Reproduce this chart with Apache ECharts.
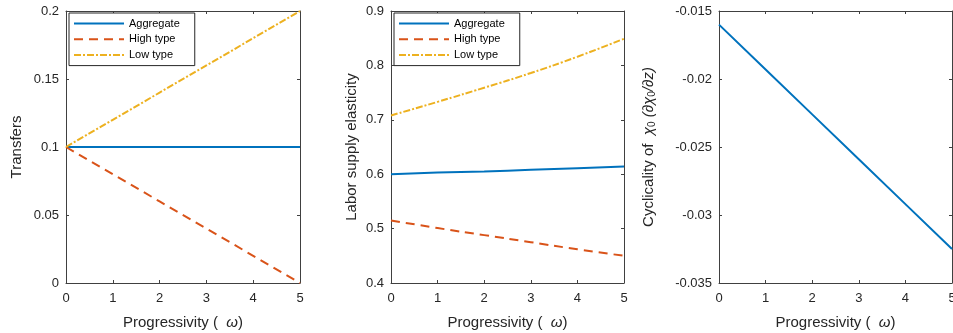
<!DOCTYPE html>
<html>
<head>
<meta charset="utf-8">
<script src="https://cdn.jsdelivr.net/npm/echarts@6/dist/echarts.min.js"></script>
<style>
html,body{margin:0;padding:0;background:#fff;overflow:hidden;}
#c{width:953px;height:333px;}
</style>
</head>
<body>
<div id="c"></div>
<script>
// Data (x = progressivity omega)
var omega = [0, 1, 2, 3, 4, 5];
var xTicks = [0, 1, 2, 3, 4, 5];

// Panel 1: Transfers
var transfersAggregate = [0.1, 0.1, 0.1, 0.1, 0.1, 0.1];
var transfersHigh = [0.1, 0.08, 0.06, 0.04, 0.02, 0.0];
var transfersLow = [0.1, 0.12, 0.14, 0.16, 0.18, 0.2];

// Panel 2: Labor supply elasticity
var elastAggregate = [0.600, 0.603, 0.605, 0.608, 0.611, 0.614];
var elastHigh = [0.515, 0.501, 0.488, 0.475, 0.462, 0.450];
var elastLow = [0.708, 0.733, 0.759, 0.786, 0.816, 0.849];

// Panel 3: Cyclicality of chi_0
var cyclicality = [-0.0160, -0.0193, -0.0226, -0.0259, -0.0292, -0.0325];

var seriesNames = ['Aggregate', 'High type', 'Low type'];

function pairs(xs, ys) { return xs.map(function (x, i) { return [x, ys[i]]; }); }

var BLUE = '#0072BD', RED = '#D95319', YEL = '#EDB120';
var TXT = '#262626', AX = '#404040';
var FONT = 'Liberation Sans, Arial, sans-serif';

var grids = [
  {left: 66, top: 11, width: 234, height: 272, outerBoundsMode: 'none', containLabel: false},
  {left: 391, top: 11, width: 233, height: 272, outerBoundsMode: 'none', containLabel: false},
  {left: 719, top: 11, width: 233, height: 272, outerBoundsMode: 'none', containLabel: false}
];
var yRanges = [
  {min: 0, max: 0.2, interval: 0.05},
  {min: 0.4, max: 0.9, interval: 0.1},
  {min: -0.035, max: -0.015, interval: 0.005}
];
var yNames = [
  'Transfers',
  'Labor supply elasticity',
  'Cyclicality of  {i|χ}{s|0} {i|(∂χ}{s|0}{i|/∂z)}'
];
var yNameGaps = [42, 32, 62];

var xAxes = [], yAxes = [];
grids.forEach(function (g, k) {
  xAxes.push({
    type: 'value', gridIndex: k, min: 0, max: 5, interval: 1, position: 'bottom',
    name: '{a|Progressivity (  }{i|ω}{a|)}', nameLocation: 'middle', nameGap: 32,
    nameTextStyle: {rich: {a: {fontSize: 15, color: TXT, fontFamily: FONT}, i: {fontSize: 15, color: TXT, fontFamily: FONT, fontStyle: 'italic'}}},
    axisLine: {show: true, onZero: false, lineStyle: {color: AX, width: 1}},
    axisTick: {show: true, inside: true, length: 3, lineStyle: {color: AX}},
    axisLabel: {fontSize: 13, color: TXT, fontFamily: FONT, margin: 9, hideOverlap: false},
    splitLine: {show: false}
  });
  xAxes.push({
    type: 'value', gridIndex: k, min: 0, max: 5, interval: 1, position: 'top',
    axisLine: {show: true, onZero: false, lineStyle: {color: AX, width: 1}},
    axisTick: {show: true, inside: true, length: 3, lineStyle: {color: AX}},
    axisLabel: {show: false}, splitLine: {show: false}
  });
  var r = yRanges[k];
  yAxes.push({
    type: 'value', gridIndex: k, min: r.min, max: r.max, interval: r.interval, position: 'left',
    name: yNames[k], nameLocation: 'middle', nameGap: yNameGaps[k],
    nameTextStyle: {fontSize: 15, color: TXT, fontFamily: FONT,
      rich: {i: {fontSize: 15, color: TXT, fontFamily: FONT, fontStyle: 'italic'},
             s: {fontSize: 10, color: TXT, fontFamily: FONT, verticalAlign: 'bottom', padding: [6, 0, 0, 0]}}},
    axisLine: {show: true, onZero: false, lineStyle: {color: AX, width: 1}},
    axisTick: {show: true, inside: true, length: 3, lineStyle: {color: AX}},
    axisLabel: {fontSize: 13, color: TXT, fontFamily: FONT, margin: 7},
    splitLine: {show: false}
  });
  yAxes.push({
    type: 'value', gridIndex: k, min: r.min, max: r.max, interval: r.interval, position: 'right',
    axisLine: {show: true, onZero: false, lineStyle: {color: AX, width: 1}},
    axisTick: {show: true, inside: true, length: 3, lineStyle: {color: AX}},
    axisLabel: {show: false}, splitLine: {show: false}
  });
});

function line(name, k, ys, color, type, smooth) {
  return {
    name: name, type: 'line', xAxisIndex: 2 * k, yAxisIndex: 2 * k,
    data: pairs(omega, ys), symbol: 'none', showSymbol: false, smooth: !!smooth,
    lineStyle: {color: color, width: 2, type: type}, itemStyle: {color: color},
    animation: false, z: 3
  };
}

var DASH = [9, 6], DASHDOT = [7, 2, 2, 2];

var legendCommon = {
  orient: 'vertical', data: seriesNames, itemWidth: 50, itemHeight: 14, itemGap: 4.5,
  padding: [5, 15, 5, 4], borderColor: TXT, borderWidth: 1, backgroundColor: '#fff',
  textStyle: {fontSize: 11, color: '#000', fontFamily: FONT}, selectedMode: false,
  itemStyle: {opacity: 0, borderWidth: 0}
};

var option = {
  backgroundColor: '#fff',
  animation: false,
  grid: grids,
  xAxis: xAxes,
  yAxis: yAxes,
  legend: [
    Object.assign({}, legendCommon, {left: 69, top: 13}),
    Object.assign({}, legendCommon, {left: 394, top: 13})
  ],
  series: [
    line('Aggregate', 0, transfersAggregate, BLUE, 'solid'),
    line('High type', 0, transfersHigh, RED, DASH),
    line('Low type', 0, transfersLow, YEL, DASHDOT),
    line('Aggregate', 1, elastAggregate, BLUE, 'solid', true),
    line('High type', 1, elastHigh, RED, DASH, true),
    line('Low type', 1, elastLow, YEL, DASHDOT, true),
    line('Cyclicality', 2, cyclicality, BLUE, 'solid')
  ]
};

var chart = echarts.init(document.getElementById('c'), null, {renderer: 'canvas'});
chart.setOption(option);
</script>
</body>
</html>
